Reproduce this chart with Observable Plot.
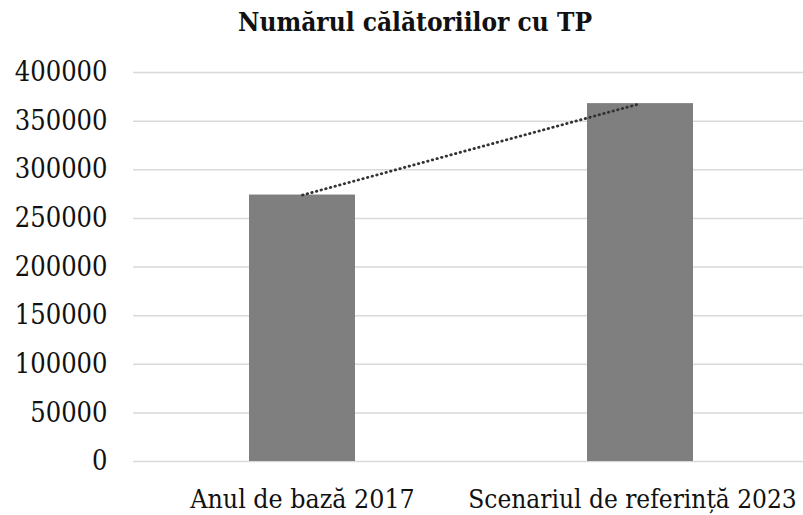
<!DOCTYPE html>
<html>
<head>
<meta charset="utf-8">
<script src="https://cdn.jsdelivr.net/npm/d3@7"></script>
<script src="https://cdn.jsdelivr.net/npm/@observablehq/plot@0.6"></script>
<style>
  html, body { margin: 0; padding: 0; background: #fff; }
  #title {
    width: 803px; box-sizing: border-box; padding-left: 27px; padding-top: 3px;
    height: 40px; line-height: 38px; text-align: center;
    font-family: "DejaVu Serif Condensed", "DejaVu Serif", serif; font-weight: bold;
    font-size: 26px; color: #111;
  }
  #chart svg text { font-family: "DejaVu Serif Condensed", "DejaVu Serif", serif; }
</style>
</head>
<body>
<div id="title">Numărul călătoriilor cu TP</div>
<div id="chart"></div>
<script>
const categories = ["Anul de bază 2017", "Scenariul de referință 2023"];
const values = [274000, 368000];
const yTicks = [0, 50000, 100000, 150000, 200000, 250000, 300000, 350000, 400000];

const data = categories.map((c, i) => ({category: c, value: values[i]}));

const chart = Plot.plot({
  width: 803,
  height: 475,
  marginTop: 32,
  marginBottom: 54,
  marginLeft: 133,
  marginRight: 0,
  style: {fontFamily: "'DejaVu Serif Condensed', 'DejaVu Serif', serif", color: "#111", background: "#fff"},
  x: {domain: categories, range: [133.5, 809.5], paddingInner: 0.686, paddingOuter: 0.343, label: null},
  y: {domain: [0, 400000], ticks: yTicks, label: null},
  marks: [
    Plot.ruleY(yTicks, {stroke: "#d9d9d9", strokeWidth: 1.5}),
    Plot.barY(data, {x: "category", y: "value", fill: "#7f7f7f"}),
    Plot.line(data, {x: "category", y: "value", stroke: "#333", strokeWidth: 2.8, strokeLinecap: "round", strokeDasharray: "0.5,4.3"}),
    Plot.axisY({ticks: yTicks, tickSize: 0, tickPadding: 26, tickFormat: d => String(d), fontSize: 27, label: null}),
    Plot.axisX({ticks: [categories[0]], tickSize: 0, tickPadding: 28, fontSize: 26.5, label: null}),
    Plot.axisX({ticks: [categories[1]], tickSize: 0, tickPadding: 28, fontSize: 26, dx: -8, label: null})
  ]
});
document.getElementById("chart").appendChild(chart);
</script>
</body>
</html>
